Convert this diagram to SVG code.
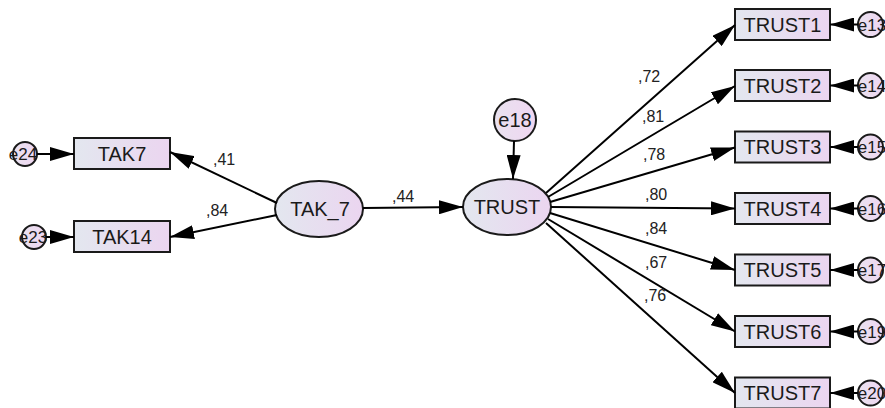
<svg xmlns="http://www.w3.org/2000/svg" width="885" height="408" viewBox="0 0 885 408">
  <defs>
    <linearGradient id="fillGrad" x1="0" y1="0" x2="1" y2="0">
      <stop offset="0" stop-color="#e3e7ef"/>
      <stop offset="1" stop-color="#ebd5f0"/>
    </linearGradient>
    <linearGradient id="errGrad" x1="0" y1="0" x2="1" y2="0">
      <stop offset="0" stop-color="#e9e2ef"/>
      <stop offset="1" stop-color="#efd6f1"/>
    </linearGradient>
    <marker id="arrow" markerUnits="userSpaceOnUse" markerWidth="24" markerHeight="14" refX="24" refY="7" orient="auto">
      <path d="M0,0 L24,7 L0,14 z" fill="#000"/>
    </marker>
    <style>
      .box { fill: url(#fillGrad); stroke: #1a1a1a; stroke-width: 2; }
      .lat { fill: url(#fillGrad); stroke: #1a1a1a; stroke-width: 2; }
      .err { fill: url(#errGrad); stroke: #1a1a1a; stroke-width: 2; }
      .lbl { font-family: "Liberation Sans", Arial, sans-serif; font-size: 20px; fill: #1a1a1a; text-anchor: middle; }
      .elbl { font-family: "Liberation Sans", Arial, sans-serif; font-size: 17px; fill: #1a1a1a; text-anchor: middle; }
      .coef { font-family: "Liberation Sans", Arial, sans-serif; font-size: 16px; fill: #222; }
      .path { stroke: #000; stroke-width: 2; fill: none; marker-end: url(#arrow); }
    </style>
  </defs>

  <!-- error terms on the left indicators -->
  <g id="e24">
    <circle class="err" cx="25" cy="154" r="12"/>
    <text class="elbl" x="23" y="160">e24</text>
  </g>
  <g id="e23">
    <circle class="err" cx="34" cy="237" r="12"/>
    <text class="elbl" x="33" y="243">e23</text>
  </g>

  <!-- observed indicators of TAK_7 -->
  <g id="TAK7">
    <rect class="box" x="74" y="138" width="96" height="31"/>
    <text class="lbl" x="122" y="160.5">TAK7</text>
  </g>
  <g id="TAK14">
    <rect class="box" x="74" y="221" width="96" height="31"/>
    <text class="lbl" x="122" y="243.5">TAK14</text>
  </g>

  <!-- latent variables -->
  <g id="TAK_7">
    <ellipse class="lat" cx="319" cy="209" rx="44" ry="28"/>
    <text class="lbl" x="320" y="216">TAK_7</text>
  </g>
  <g id="TRUST">
    <ellipse class="lat" cx="507" cy="207" rx="44" ry="28"/>
    <text class="lbl" x="507" y="214">TRUST</text>
  </g>
  <g id="e18">
    <circle class="err" cx="515" cy="120" r="21"/>
    <text class="lbl" x="515" y="127">e18</text>
  </g>

  <!-- TRUST indicators -->
  <g id="TRUST1">
    <rect class="box" x="735" y="9" width="95" height="31"/>
    <text class="lbl" x="782.5" y="31.5">TRUST1</text>
  </g>
  <g id="TRUST2">
    <rect class="box" x="735" y="70" width="95" height="31"/>
    <text class="lbl" x="782.5" y="92.5">TRUST2</text>
  </g>
  <g id="TRUST3">
    <rect class="box" x="735" y="131.5" width="95" height="31"/>
    <text class="lbl" x="782.5" y="154">TRUST3</text>
  </g>
  <g id="TRUST4">
    <rect class="box" x="735" y="193" width="95" height="31"/>
    <text class="lbl" x="782.5" y="215.5">TRUST4</text>
  </g>
  <g id="TRUST5">
    <rect class="box" x="735" y="254.5" width="95" height="31"/>
    <text class="lbl" x="782.5" y="277">TRUST5</text>
  </g>
  <g id="TRUST6">
    <rect class="box" x="735" y="316" width="95" height="31"/>
    <text class="lbl" x="782.5" y="338.5">TRUST6</text>
  </g>
  <g id="TRUST7">
    <rect class="box" x="735" y="377.5" width="95" height="31"/>
    <text class="lbl" x="782.5" y="400">TRUST7</text>
  </g>

  <!-- error terms on the right indicators -->
  <g id="e13"><circle class="err" cx="870.5" cy="24.5" r="12.5"/><text class="elbl" x="872" y="30.5">e13</text></g>
  <g id="e14"><circle class="err" cx="870.5" cy="85.5" r="12.5"/><text class="elbl" x="872" y="91.5">e14</text></g>
  <g id="e15"><circle class="err" cx="870.5" cy="147" r="12.5"/><text class="elbl" x="872" y="153">e15</text></g>
  <g id="e16"><circle class="err" cx="870.5" cy="208.5" r="12.5"/><text class="elbl" x="872" y="214.5">e16</text></g>
  <g id="e17"><circle class="err" cx="870.5" cy="270" r="12.5"/><text class="elbl" x="872" y="276">e17</text></g>
  <g id="e19"><circle class="err" cx="870.5" cy="331.5" r="12.5"/><text class="elbl" x="872" y="337.5">e19</text></g>
  <g id="e20"><circle class="err" cx="870.5" cy="393" r="12.5"/><text class="elbl" x="872" y="399">e20</text></g>

  <!-- paths -->
  <g id="connectors">
    <line class="path" x1="37" y1="154" x2="74" y2="154"/>
    <line class="path" x1="46" y1="237" x2="74" y2="237"/>
    <line class="path" x1="277" y1="203" x2="170" y2="152"/>
    <line class="path" x1="277" y1="215" x2="170" y2="237"/>
    <line class="path" x1="363" y1="208" x2="463" y2="207"/>
    <line class="path" x1="514" y1="141" x2="513" y2="179"/>

    <line class="path" x1="546" y1="193" x2="735" y2="25"/>
    <line class="path" x1="548" y1="197" x2="735" y2="86"/>
    <line class="path" x1="550" y1="202" x2="735" y2="147.5"/>
    <line class="path" x1="551" y1="207" x2="735" y2="208.5"/>
    <line class="path" x1="550" y1="213" x2="735" y2="270"/>
    <line class="path" x1="548" y1="219" x2="735" y2="331.5"/>
    <line class="path" x1="546" y1="223" x2="735" y2="393"/>

    <line class="path" x1="858" y1="24.5" x2="830" y2="24.5"/>
    <line class="path" x1="858" y1="85.5" x2="830" y2="85.5"/>
    <line class="path" x1="858" y1="147" x2="830" y2="147"/>
    <line class="path" x1="858" y1="208.5" x2="830" y2="208.5"/>
    <line class="path" x1="858" y1="270" x2="830" y2="270"/>
    <line class="path" x1="858" y1="331.5" x2="830" y2="331.5"/>
    <line class="path" x1="858" y1="393" x2="830" y2="393"/>
  </g>

  <!-- standardized estimates -->
  <g id="estimates">
    <text class="coef" x="213" y="165">,41</text>
    <text class="coef" x="206" y="216">,84</text>
    <text class="coef" x="392" y="202">,44</text>
    <text class="coef" x="638" y="82">,72</text>
    <text class="coef" x="642" y="122">,81</text>
    <text class="coef" x="643" y="160">,78</text>
    <text class="coef" x="645" y="200">,80</text>
    <text class="coef" x="645" y="234">,84</text>
    <text class="coef" x="645" y="268">,67</text>
    <text class="coef" x="644" y="301">,76</text>
  </g>
</svg>
